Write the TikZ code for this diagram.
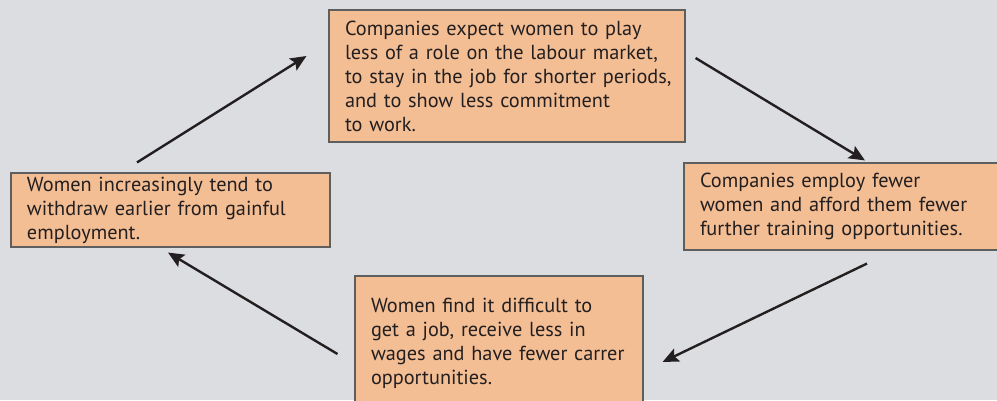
\documentclass[tikz,border=0pt]{standalone}
\usepackage{fontspec}
\setmainfont{PT Sans}
\usetikzlibrary{positioning, arrows.meta}

\definecolor{bggray}{HTML}{DCDDE0}
\definecolor{boxfill}{HTML}{F4BE94}
\definecolor{boxline}{HTML}{5E5E5E}
\definecolor{inktext}{HTML}{231F20}

\tikzset{
    stage/.style={rectangle, draw=boxline, line width=1.1pt, fill=boxfill, text=inktext,
        align=left, inner xsep=16pt, inner ysep=0pt,
        font=\fontsize{20.3}{24}\selectfont},
    cycle arrow/.style={line width=2.4pt, draw=inktext,
        -{Stealth[length=16pt, width=14pt, inset=3pt]}}
}

\begin{document}
\begin{tikzpicture}[x=1pt, y=1pt]
    \clip (0,0) rectangle (997,400);
    \fill[bggray] (0,0) rectangle (997,400);
    % the four stages of the cycle
    \node[stage, minimum width=356pt, minimum height=132pt, text width=324pt] (expect) at (507,324)
        {Companies expect women to play\\less of a role on the labour market,\\\mbox{to stay in the job for shorter periods,}\\and to show less commitment\\to work.};
    \node[stage, minimum width=330pt, minimum height=87pt, text width=298pt] (employ) at (849,193.5)
        {Companies employ fewer\\women and afford them fewer\\further training opportunities.};
    \node[stage, minimum width=288pt, minimum height=134pt, text width=256pt] (difficult) at (499,57)
        {Women find it difficult to\\get a job, receive less in\\wages and have fewer carrer\\opportunities.};
    \node[stage, minimum width=319pt, minimum height=74pt, text width=287pt] (withdraw) at (170.5,190)
        {Women increasingly tend to\\withdraw earlier from gainful\\employment.};
    % arrow ends
    \coordinate (A1) at ([shift={(-33.5,10)}]withdraw.north);
    \coordinate (B1) at ([shift={(-22,20)}]expect.west);
    \coordinate (A2) at ([shift={(10,18)}]expect.east);
    \coordinate (B2) at ([shift={(16,2)}]employ.north);
    \coordinate (A3) at ([shift={(18,-13)}]employ.south);
    \coordinate (B3) at ([shift={(19,-19)}]difficult.east);
    \coordinate (A4) at ([shift={(-17,-11)}]difficult.west);
    \coordinate (B4) at ([shift={(-2.5,-5)}]withdraw.south);
    \draw[cycle arrow] (A1) -- (B1);
    \draw[cycle arrow] (A2) -- (B2);
    \draw[cycle arrow] (A3) -- (B3);
    \draw[cycle arrow] (A4) -- (B4);
\end{tikzpicture}
\end{document}
